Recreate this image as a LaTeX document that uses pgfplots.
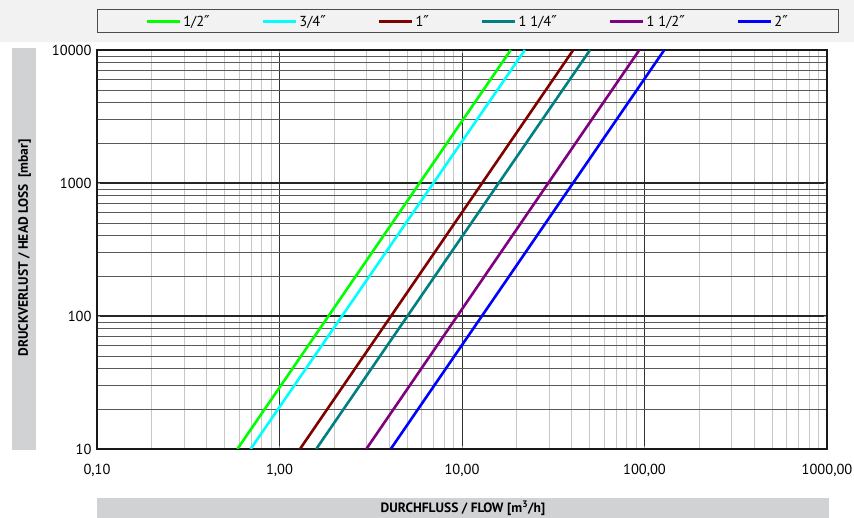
\documentclass[border=0pt]{standalone}
\usepackage{pgfplots}
\pgfplotsset{compat=1.18}
\usepackage{fontspec}
\setmainfont{PT Sans}
\newfontfamily\djv{DejaVu Sans}
\newcommand{\dq}{{\djv\fontsize{15}{16}\selectfont ″}}

\definecolor{lgreen}{HTML}{00FF00}
\definecolor{lcyan}{HTML}{00FFFF}
\definecolor{ldred}{HTML}{800000}
\definecolor{lteal}{HTML}{008080}
\definecolor{lpurple}{HTML}{800080}
\definecolor{lblue}{HTML}{0000FF}
\definecolor{labgray}{HTML}{D1D2D4}
\definecolor{bandgray}{HTML}{F2F2F2}

\begin{document}
\begin{tikzpicture}[x=1pt,y=1pt]
\path[use as bounding box] (0,0) rectangle (854,518);
\fill[bandgray] (0,476) rectangle (854,518);
\fill[labgray] (12,68) rectangle (36,470);
\fill[labgray] (97,0) rectangle (829,20);
\draw[black!70, fill=bandgray, line width=1pt] (97,485) rectangle (838,508);
\node[rotate=90, font=\fontsize{13.5}{15}\selectfont\bfseries] at (24.5,270) {DRUCKVERLUST / HEAD LOSS\ \ [mbar]};
\node[font=\fontsize{13.5}{15}\selectfont\bfseries] at (463,10) {DURCHFLUSS / FLOW [m\textsuperscript{3}/h]};

\begin{axis}[
    at={(97pt,69pt)}, anchor=south west,
    scale only axis,
    width=730pt, height=399pt,
    xmode=log, ymode=log,
    xmin=0.1, xmax=1000,
    ymin=10, ymax=10000,
    xtick={0.1,1,10,100,1000},
    xticklabels={{0,10},{1,00},{10,00},{100,00},{1000,00}},
    ytick={10,100,1000,10000},
    yticklabels={10,100,1000,10000},
    ticklabel style={font=\fontsize{14.5}{16}\selectfont},
    xticklabel style={yshift=-12pt},
    yticklabel style={xshift=-2pt},
    grid=both,
    major x grid style={black!80, line width=0.8pt},
    major y grid style={black!85, line width=1.6pt},
    minor x grid style={black!22, line width=1pt},
    minor y grid style={black!65, line width=0.9pt},
    axis line style={black!90, line width=1.2pt},
    major tick length=3pt,
    minor tick length=0pt,
    tick style={black!40},
    legend columns=6,
    legend style={at={(0.508,1.071)}, anchor=center, draw=none, fill=none,
        font=\fontsize{14.5}{16}\selectfont,
        /tikz/every even column/.append style={column sep=50pt}},
    legend image code/.code={\draw[#1, line width=2.6pt] (0pt,0pt) -- (33pt,0pt);},
    every axis plot/.append style={line width=2.6pt},
]
\addplot[lgreen] coordinates {(0.588,10) (18.5,10000)};
\addlegendentry{1/2\dq}
\addplot[lcyan] coordinates {(0.695,10) (22.1,10000)};
\addlegendentry{3/4\dq}
\addplot[ldred] coordinates {(1.295,10) (40.7,10000)};
\addlegendentry{1\dq}
\addplot[lteal] coordinates {(1.59,10) (50.3,10000)};
\addlegendentry{1 1/4\dq}
\addplot[lpurple] coordinates {(2.99,10) (93.7,10000)};
\addlegendentry{1 1/2\dq}
\addplot[lblue] coordinates {(4.07,10) (128.3,10000)};
\addlegendentry{2\dq}
\end{axis}
\end{tikzpicture}
\end{document}
